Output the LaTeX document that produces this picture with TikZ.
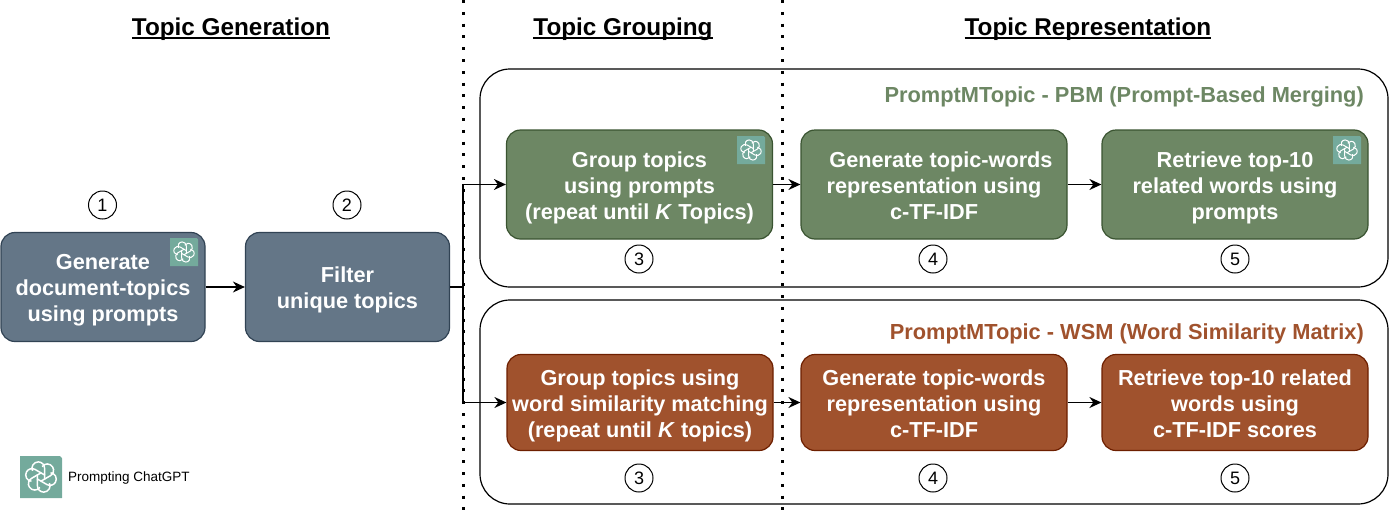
\documentclass[tikz,border=0pt]{standalone}
\usepackage{fontspec}
\setmainfont{Liberation Sans}
\usetikzlibrary{arrows.meta}
\definecolor{slatefill}{HTML}{647687}
\definecolor{slateline}{HTML}{314354}
\definecolor{sagefill}{HTML}{6D8764}
\definecolor{sageline}{HTML}{3A5431}
\definecolor{rustfill}{HTML}{A0522D}
\definecolor{rustline}{HTML}{6D1F00}
\definecolor{gptteal}{HTML}{74AA9C}
\newcommand{\titlerule}[1]{\setbox0\hbox{#1}\rlap{\rule[-2.8pt]{\wd0}{1.7pt}}\box0}
\tikzset{
	taskbox/.style={draw,rounded corners=14pt,line width=1.2pt,text=white,align=center,inner sep=0pt,
		font=\fontsize{21.7}{26}\selectfont\bfseries,anchor=center,text depth=0pt},
	slatebox/.style={taskbox,fill=slatefill,draw=slateline,minimum width=204pt,minimum height=109pt},
	sagebox/.style={taskbox,fill=sagefill,draw=sageline,minimum width=266pt,minimum height=109pt},
	rustbox/.style={taskbox,fill=rustfill,draw=rustline,minimum width=266pt,minimum height=96pt},
	stepnum/.style={draw,circle,minimum size=28pt,inner sep=0pt,line width=1pt,font=\fontsize{18}{20}\selectfont},
	flow/.style={line width=1.4pt,-{Stealth[length=12pt,width=11pt]}},
	panel/.style={draw,rounded corners=30pt,line width=1.2pt},
	phasetitle/.style={font=\fontsize{24.3}{28}\selectfont\bfseries,anchor=base},
	paneltitle/.style={font=\fontsize{21.8}{24}\selectfont\bfseries,anchor=base east,inner sep=0pt},
	phaseline/.style={line width=3pt,dash pattern=on 3pt off 8.8pt},
	gptlogo/.pic={
		\fill[gptteal,rounded corners=.22] (-1,-1) -- (-1,1) -- (1,1) -- (1,-.9) -- (.9,-1) -- cycle;
		\foreach \a in {0,60,...,300}{
			\draw[white,rotate=\a] (-.17,-.12) -- (-.17,.42) arc (180:-25:.3);
		}
	}
}
\begin{document}
\begin{tikzpicture}[x=1pt,y=-1pt]
	\useasboundingbox (0,0) rectangle (1391,522);
	% panels
	\node[panel,minimum width=908pt,minimum height=218pt] (pbmpanel) at (934,178) {};
	\node[panel,minimum width=908pt,minimum height=204pt] (wsmpanel) at (934,402) {};
	% phase borders
	\coordinate (bordera) at (463,0);
	\coordinate (borderat) at (463,516);
	\coordinate (borderb) at (782,0);
	\coordinate (borderbt) at (782,516);
	\draw[phaseline] (bordera) -- (borderat);
	\draw[phaseline] (borderb) -- (borderbt);
	% titles
	\node[phasetitle] (gentitle) at (231,35.7) {\titlerule{Topic Generation}};
	\node[phasetitle] (grptitle) at (623,35.7) {\titlerule{Topic Grouping}};
	\node[phasetitle] (reptitle) at (1088,35.7) {\titlerule{Topic Representation}};
	\node[paneltitle,text=sagefill] (pbmtitle) at (1364,102.7) {PromptMTopic - PBM (Prompt-Based Merging)};
	\node[paneltitle,text=rustfill] (wsmtitle) at (1364,339.3) {PromptMTopic - WSM (Word Similarity Matrix)};
	% left boxes
	\node[slatebox] (gendocs) at (103,287) {\\[-9pt]Generate\\document-topics\\using prompts};
	\node[slatebox] (filter) at (347.5,287) {\\[-9pt]Filter\\unique topics};
	% upper row
	\node[sagebox] (pbmgroup) at (639.5,184.5) {\\[-9pt]Group topics\\using prompts\\(repeat until \textit{K} Topics)};
	\node[sagebox] (pbmrep) at (934,184.5) {\\[-9pt]\hspace*{14pt}Generate topic-words\\representation using\\c-TF-IDF};
	\node[sagebox] (pbmwords) at (1235,184.5) {\\[-9pt]Retrieve top-10\\related words using\\prompts};
	% lower row
	\node[rustbox] (wsmgroup) at (640,402.5) {\\[-9pt]Group topics using\\word similarity matching\\(repeat until \textit{K} topics)};
	\node[rustbox] (wsmrep) at (934,402.5) {\\[-9pt]Generate topic-words\\representation using\\c-TF-IDF};
	\node[rustbox] (wsmwords) at (1235,402.5) {\\[-9pt]Retrieve top-10 related\\words using\\c-TF-IDF scores};
	% step numbers
	\node[stepnum] (numa) at (102.5,205) {1};
	\node[stepnum] (numb) at (347,205) {2};
	\foreach \x/\n in {639/3,933/4,1235/5}{
		\node[stepnum] (pbm\n) at (\x,259) {\n};
		\node[stepnum] (wsm\n) at (\x,478) {\n};
	}
	% prompt marks
	\pic[scale=14,line width=1pt] (logoa) at (184,252) {gptlogo};
	\pic[scale=14,line width=1pt] (logob) at (751,150) {gptlogo};
	\pic[scale=14,line width=1pt] (logoc) at (1347,150) {gptlogo};
	\pic[scale=21,line width=1.5pt] (logokey) at (41,477) {gptlogo};
	\node[font=\fontsize{13.5}{15}\selectfont,anchor=west,inner sep=0pt] (keytext) at (68,478) {Prompting ChatGPT};
	% arrows
	\coordinate (split) at (463,287);
	\draw[flow] (gendocs) -- (filter);
	\draw[line width=1.4pt] (filter) -- (split);
	\draw[flow] (split) |- (pbmgroup);
	\draw[flow] (split) |- (wsmgroup);
	\draw[flow] (pbmgroup) -- (pbmrep);
	\draw[flow] (pbmrep) -- (pbmwords);
	\draw[flow] (wsmgroup) -- (wsmrep);
	\draw[flow] (wsmrep) -- (wsmwords);
\end{tikzpicture}
\end{document}
